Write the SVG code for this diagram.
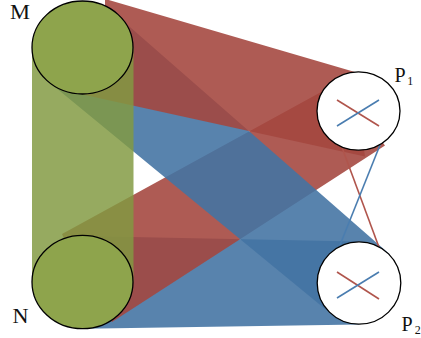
<svg xmlns="http://www.w3.org/2000/svg" width="421" height="338" viewBox="0 0 421 338">
  <style>
    .red { fill: #a4473f; fill-opacity: 0.89; stroke: none; }
    .blue { fill: #4374a3; fill-opacity: 0.89; stroke: none; }
    .band { fill: #829a41; fill-opacity: 0.84; stroke: none; }
    .gnode { fill: #8ea44c; stroke: #000; stroke-width: 1.3; }
    .pnode { fill: #fff; stroke: #000; stroke-width: 1.3; }
    .rl { stroke: #b0554c; stroke-width: 1.6; fill: none; }
    .bl { stroke: #4a7db0; stroke-width: 1.6; fill: none; }
    .lbl { font-family: "Liberation Serif", "DejaVu Serif", serif; font-size: 20px; fill: #111; }
    .sub { font-family: "Liberation Serif", "DejaVu Serif", serif; font-size: 12px; fill: #111; }
  </style>
  <g id="connectors">
    <polygon class="blue" points="82.5,236 359,241.5 359,324.4 82.5,328.8"/>
    <polygon class="red" points="62,234 358,71.8 358.5,111 385,145.4 112,322 82.5,282"/>
    <polygon class="blue" points="118,16.4 390,254.4 359,283 333,315.4 47,80.5 82.5,47.5"/>
    <polygon class="red" points="105,-1.1 360,73.4 358.5,111 365,156.4 82.5,94.4 82.5,47.5 105,20"/>
    <rect class="band" x="32" y="47.5" width="101.5" height="234.5"/>
    <line class="rl" x1="340" y1="142" x2="380" y2="250"/>
    <line class="bl" x1="380" y1="145" x2="340" y2="245"/>
  </g>
  <g id="M">
    <ellipse class="gnode" cx="82.5" cy="47.5" rx="50.5" ry="46.5"/>
    <text class="lbl" x="10" y="18.5" textLength="20" lengthAdjust="spacingAndGlyphs">M</text>
  </g>
  <g id="N">
    <ellipse class="gnode" cx="82.5" cy="282" rx="50.5" ry="46.7"/>
    <text class="lbl" x="12.5" y="322.5" textLength="16" lengthAdjust="spacingAndGlyphs">N</text>
  </g>
  <g id="P1">
    <ellipse class="pnode" cx="358.5" cy="111" rx="41.5" ry="39.2"/>
    <line class="rl" x1="337" y1="100" x2="379" y2="126"/>
    <line class="bl" x1="337" y1="126" x2="379" y2="100"/>
    <text class="lbl" x="394.5" y="81.5">P<tspan class="sub" dx="1.5" dy="3.5">1</tspan></text>
  </g>
  <g id="P2">
    <ellipse class="pnode" cx="359" cy="283" rx="41.8" ry="41.2"/>
    <line class="rl" x1="337" y1="272" x2="379" y2="299"/>
    <line class="bl" x1="337" y1="298" x2="379" y2="272"/>
    <text class="lbl" x="401.5" y="330.5">P<tspan class="sub" dx="2" dy="3.5">2</tspan></text>
  </g>
</svg>
